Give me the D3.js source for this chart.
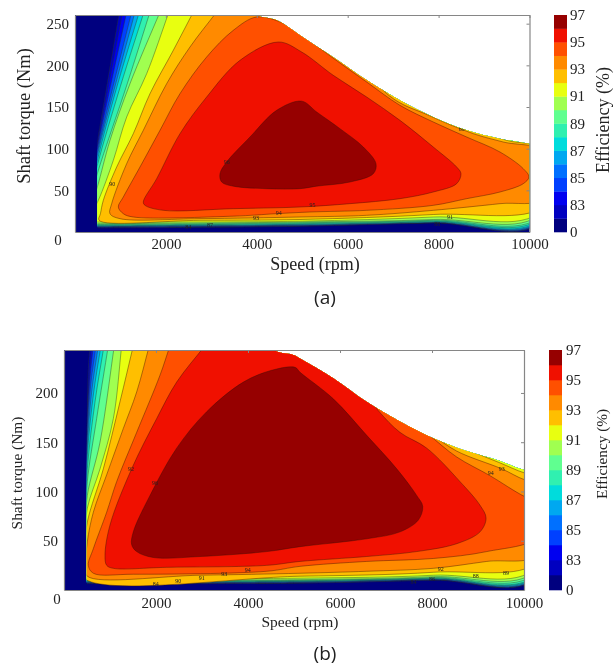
<!DOCTYPE html>
<html><head><meta charset="utf-8">
<script src="https://cdn.jsdelivr.net/npm/d3@7/dist/d3.min.js"></script>
<style>html,body{margin:0;background:#fff}svg{display:block;filter:blur(0.35px)}</style></head>
<body><svg id="c" width="616" height="670"></svg>
<script>
const levels=[0,82,83,84,85,86,87,88,89,90,91,92,93,94,95,96,97];
const bandColors=["#00007f","#0000c0","#0000f0","#0040ff","#0070ff","#00a8f0","#00dcdc","#30f0b0","#60ff90","#a0ff50","#e8ff10","#ffbf00","#ff8a00","#ff5000","#f01000","#960000"];
const barLabels=[0,83,85,87,89,91,93,95,97];
const xTicks=[2000,4000,6000,8000,10000];
const yTicksA=[50,100,150,200,250];
const yTicksB=[50,100,150,200];
const minSpeedA=491, minSpeedB=493;

// Operating limit: [rpm, torque]
const limitA=[[0,275],[3800,275],[4004,260],[4444,254],[4796,242],[4950,236],[5676,210],[6424,182],[7150,158],[7876,138],[8624,122],[9350,112],[10000,106],[10100,105]];
const limitB=[[0,260],[4300,260],[4624,242],[5022,238],[5131,235],[5855,215],[6580,191],[7304,171],[8029,154],[8754,141],[9479,131],[10000,122],[10100,121]];

// Contours of panel (a), one per lower level: [rpm, torque]
const a82=[[975,264],[491,108],[250,30],[250,5],[491,5],[2500,5.5],[5000,7],[7883,11],[10300,13]];
const a83=[[1049,264],[491,104],[250,30],[250,5.5],[491,5.5],[2500,6],[5000,7.4],[7883,11.2],[10300,13.5]];
const a84=[[1137,264],[491,100],[250,28],[250,6],[491,6],[2500,6.5],[5000,7.8],[7883,11.4],[10300,14]];
const a85=[[1247,264],[491,96],[250,28],[250,6.5],[491,6.5],[2500,7],[5000,8.2],[7883,11.6],[10300,14.5]];
const a86=[[1320,264],[491,92],[250,26],[250,7],[491,7],[2500,7.5],[5000,8.6],[7883,12],[10300,15.5]];
const a87=[[1415,264],[900,170],[491,86],[250,26],[250,7.5],[491,7.5],[2500,8],[5000,9.2],[7883,12.4],[10300,17]];
const a88=[[1518,264],[1000,175],[491,80],[250,24],[250,8],[491,8],[2500,8.7],[5000,10],[7883,13],[10300,19]];
const a89=[[1650,264],[1150,178],[491,70],[250,22],[250,9],[491,9],[2500,9.5],[5000,11],[7883,14],[10300,21]];
const a90=[[1870,264],[1210,178],[770,110],[491,54],[300,22],[300,10],[491,10],[2500,10.5],[5000,12],[7883,15],[10300,24]];
const a91=[[2067,264],[1577,190],[1137,138],[843,86],[513,38],[300,16],[300,12],[500,12],[2500,12],[5000,13],[7883,18],[10300,27]];
const a92=[[2603,264],[2163,218],[1650,166],[1283,118],[917,78],[623,38],[560,22],[530,14],[2750,14],[4950,15],[7883,21],[10300,31],[10400,98],[9500,110],[8500,130],[7000,178],[5000,285]];
const a93=[[3117,264],[2530,222],[2017,178],[1503,122],[1137,82],[807,34],[770,22],[990,16],[2750,16],[4950,18],[6417,20],[7883,26],[9350,34],[10300,40],[10400,95],[9423,108],[8763,118],[7783,140],[6903,164],[5000,290]];
const a94=[[3997,258],[3483,242],[2897,210],[2310,166],[1870,122],[1430,78],[1063,42],[953,30],[1063,22],[1283,18],[3483,19],[4437,22],[5170,24],[6417,26],[7883,32],[8617,40],[9350,48],[9863,58],[9987,66],[9863,76],[9350,96],[8617,114],[7883,132],[7150,152],[6417,180],[5647,210],[5100,232],[4600,250]];
const a95=[[1503,36],[1797,64],[2310,118],[2897,162],[3630,206],[4473,228],[4987,216],[5683,188],[6417,162],[7150,134],[7883,102],[8397,78],[8492,70],[8397,58],[7883,48],[7150,40],[6050,34],[4950,30],[3483,28],[1943,26],[1540,32]];
const a96=[[3190,70],[3337,84],[3850,114],[4437,146],[4987,157],[5317,144],[5830,124],[6343,102],[6622,82],[6563,70],[6050,60],[5317,55],[4950,52],[4217,52],[3483,55],[3227,60]];

// Contours of panel (b)
const b82=[[565,248],[529,225],[507,184],[470,110],[430,30],[430,6.5],[493,6.5],[5131,7],[8029,10],[10300,13]];
const b83=[[601,248],[551,218],[507,177],[470,105],[430,30],[430,6.8],[493,6.8],[5131,7.3],[8029,10.3],[10300,13.3]];
const b84=[[638,248],[565,215],[507,167],[470,100],[430,30],[430,7.1],[493,7.1],[5131,7.6],[8029,10.6],[10300,13.6]];
const b85=[[696,248],[580,208],[507,157],[470,95],[430,30],[430,7.5],[493,7.5],[5131,8],[8029,10.9],[10300,14]];
const b86=[[746,248],[601,201],[507,147],[470,90],[430,30],[430,8],[493,8],[5131,8.4],[8029,11.2],[10300,14.5]];
const b87=[[804,248],[638,198],[507,137],[470,85],[430,30],[430,8.4],[493,8.4],[5131,8.8],[8029,11.6],[10300,15.5]];
const b88=[[870,248],[674,191],[507,123],[470,75],[430,30],[430,8.8],[493,8.8],[5131,9.3],[8029,12],[10300,16.5]];
const b89=[[964,248],[710,174],[507,110],[470,70],[430,30],[430,9.3],[493,9.3],[5131,9.8],[8029,12.6],[10300,18.6]];
const b90=[[1094,248],[783,150],[507,96],[460,60],[430,30],[430,10],[493,10],[5131,10.5],[8029,13.5],[10300,21]];
const b91=[[1254,248],[1073,174],[783,123],[507,83],[450,50],[430,25],[430,11],[493,11],[5131,12],[8029,15],[10300,24]];
const b92=[[1507,248],[1217,191],[855,123],[507,69],[440,40],[420,12.5],[5131,14],[8029,18],[10300,29],[10400,115],[10000,119],[9479,129],[8754,143],[8000,160],[7000,190],[5000,270]];
const b93=[[1855,248],[1580,201],[1290,164],[928,117],[638,79],[507,49],[470,25],[507,14],[2957,15],[5131,17],[6580,19],[8029,22],[9189,29],[10300,36],[10400,108],[10008,112],[9515,123],[8537,141],[8000,158],[7300,185],[5000,270]];
const b94=[[2304,248],[2087,218],[1580,160],[1145,110],[928,79],[638,42],[529,25],[638,17],[1507,16],[4406,19],[5131,24],[6580,29],[8029,32],[9189,39],[10300,54],[10400,88],[10008,95],[9262,116],[8537,135],[7885,159],[6800,195],[5000,270]];
const b95=[[3065,248],[2449,211],[2015,174],[1471,123],[1000,66],[891,35],[928,25],[1073,22],[2232,23],[4406,25],[5131,29],[6580,34],[7666,39],[8537,47],[9044,59],[9175,73],[9044,86],[8609,110],[7885,144],[7304,160],[6834,182],[6300,215],[5500,255]];
const b96=[[1471,46],[1507,59],[1870,96],[2449,144],[3102,181],[3899,211],[4515,223],[5022,226],[5131,221],[5855,194],[6580,157],[7233,123],[7666,96],[7797,85],[7703,71],[7304,59],[6580,52],[5131,44],[4406,39],[2957,34],[1942,33],[1580,39]];

const contoursA=[a82,a83,a84,a85,a86,a87,a88,a89,a90,a91,a92,a93,a94,a95,a96];
const contoursB=[b82,b83,b84,b85,b86,b87,b88,b89,b90,b91,b92,b93,b94,b95,b96];

// Inline contour labels: [text, rpm, torque]
const inlineA=[["96",3337,84],["90",821,58],["94",4481,23],["93",3982,17],["95",5228,32],["91",8250,18],["88",7971,10],["87",2970,8],["84",2493,6],["89",8507,124],["89",9497,113]];
const inlineB=[["96",1978,109],["92",1457,123],["94",3993,20],["93",3486,16],["91",2993,12],["90",2486,9],["84",1993,6],["92",8189,21],["88",8950,14.5],["89",9610,17.6],["86",8000,11],["84",7596,8],["94",9276,119],["93",9515,123]];

const panels=[
 {id:"a",L:75,R:529.5,T:15,B:232,yMax:260.4,minSpeed:minSpeedA,yTicks:yTicksA,limit:limitA,contours:contoursA,inline:inlineA,
  barX:554,barW:13,barLabelX:570,xPad:6,zero:[58,244.5],tickFs:15,
  xTitle:[315,270,18],yTitle:[30,116,18.5],effT:[609,120,18],tag:[325,304]},
 {id:"b",L:64,R:524,T:350,B:590,yMax:243.6,minSpeed:minSpeedB,yTicks:yTicksB,limit:limitB,contours:contoursB,inline:inlineB,
  barX:549,barW:13,barLabelX:566,xPad:7,zero:[57,604],tickFs:15,
  xTitle:[300,627,15.5],yTitle:[22,473,15.4],effT:[607,454,15.3],tag:[325,660]}
];
const serif='"Liberation Serif","Times New Roman",serif';
const svg=d3.select("#c");
const frame="#868686";

panels.forEach(p=>{
  const x=d3.scaleLinear().domain([0,10000]).range([p.L,p.R]);
  const y=d3.scaleLinear().domain([0,p.yMax]).range([p.B,p.T]);
  const g=svg.append("g");
  const defs=svg.append("defs");
  const area=d3.area().x(d=>x(d[0])).y0(y(0)).y1(d=>y(d[1])).curve(d3.curveMonotoneX);
  defs.append("clipPath").attr("id","box"+p.id).append("rect")
    .attr("x",p.L).attr("y",p.T).attr("width",p.R-p.L).attr("height",p.B-p.T);
  defs.append("clipPath").attr("id","lim"+p.id).append("path").attr("d",area(p.limit));
  defs.append("clipPath").attr("id","run"+p.id).append("rect")
    .attr("x",x(p.minSpeed)).attr("y",p.T).attr("width",p.R-x(p.minSpeed)).attr("height",p.B-p.T);
  const outer=g.append("g").attr("clip-path",`url(#box${p.id})`);
  const field=outer.append("g").attr("clip-path",`url(#lim${p.id})`);
  field.append("path").attr("d",area(p.limit)).attr("fill",bandColors[0]);
  const bands=field.append("g").attr("clip-path",`url(#run${p.id})`);
  const line=d3.line().x(d=>x(d[0])).y(d=>y(d[1])).curve(d3.curveCatmullRomClosed.alpha(0.5));
  const corner=[10700,p.yMax*1.3];
  p.contours.forEach((c,i)=>{
    let pts=c;
    if(c[0][1]>p.yMax && c[1][1]<c[0][1]){
      // carry the contour straight on beyond the top of the plot before it closes
      const k=40/(c[0][1]-c[1][1]);
      pts=[[c[0][0]+(c[0][0]-c[1][0])*k,c[0][1]+40],...pts];
    }
    if(c[c.length-1][0]>10000) pts=[...pts,corner];
    bands.append("path").attr("d",line(pts)).attr("fill",bandColors[i+1])
      .attr("stroke",i<10?"#2a3a20":"#3a1005").attr("stroke-width",0.6).attr("stroke-opacity",0.7);
  });
  bands.selectAll("text.il").data(p.inline).join("text").attr("class","il")
    .attr("x",d=>x(d[1])).attr("y",d=>y(d[2])+2).attr("text-anchor","middle")
    .attr("font-size",6).attr("font-family",serif).attr("fill","#222").text(d=>d[0]);

  // frame and axes
  const style=s=>{s.selectAll(".domain").attr("stroke",frame).attr("stroke-width",1.2);
    s.selectAll(".tick line").attr("stroke",frame);
    s.selectAll("text").attr("font-family",serif).attr("font-size",p.tickFs).attr("fill","#222");};
  g.append("g").attr("transform",`translate(0,${p.B})`)
    .call(d3.axisBottom(x).tickValues(xTicks).tickSize(0).tickPadding(p.xPad).tickFormat(d3.format("d"))).call(style);
  g.append("g").attr("transform",`translate(${p.L},0)`)
    .call(d3.axisLeft(y).tickValues(p.yTicks).tickSize(0).tickPadding(6)).call(style);
  g.append("g").attr("transform",`translate(0,${p.T})`)
    .call(d3.axisTop(x).tickValues(xTicks).tickSizeInner(-3).tickSizeOuter(0).tickFormat("")).call(style);
  g.append("g").attr("transform",`translate(${p.R},0)`)
    .call(d3.axisRight(y).tickValues(p.yTicks).tickSizeInner(-3).tickSizeOuter(0).tickFormat("")).call(style);
  g.append("text").attr("x",p.zero[0]).attr("y",p.zero[1]).attr("text-anchor","middle")
    .attr("font-family",serif).attr("font-size",p.tickFs).attr("fill","#222").text("0");
  g.append("text").attr("x",p.xTitle[0]).attr("y",p.xTitle[1]).attr("text-anchor","middle")
    .attr("font-family",serif).attr("font-size",p.xTitle[2]).attr("fill","#222").text("Speed (rpm)");
  g.append("text").attr("transform",`translate(${p.yTitle[0]},${p.yTitle[1]}) rotate(-90)`).attr("text-anchor","middle")
    .attr("font-family",serif).attr("font-size",p.yTitle[2]).attr("fill","#222").text("Shaft torque (Nm)");

  // colour bar
  const bar=d3.scaleLinear().domain([0,bandColors.length]).range([p.B,p.T]);
  g.selectAll("rect.band").data(bandColors).join("rect").attr("class","band")
    .attr("x",p.barX).attr("width",p.barW)
    .attr("y",(d,i)=>bar(i+1)).attr("height",(d,i)=>bar(i)-bar(i+1)+0.3).attr("fill",d=>d);
  g.selectAll("text.bl").data(barLabels).join("text").attr("class","bl")
    .attr("x",p.barLabelX).attr("y",d=>bar(levels.indexOf(d))+5)
    .attr("font-family",serif).attr("font-size",15).attr("fill","#222").text(d=>d);
  g.append("text").attr("transform",`translate(${p.effT[0]},${p.effT[1]}) rotate(-90)`).attr("text-anchor","middle")
    .attr("font-family",serif).attr("font-size",p.effT[2]).attr("fill","#222").text("Efficiency (%)");
  g.append("text").attr("x",p.tag[0]).attr("y",p.tag[1]).attr("text-anchor","middle")
    .attr("font-family",'"Open Sans","Noto Sans",sans-serif').attr("font-size",19).attr("fill","#222").text(`(${p.id})`);
});
</script></body></html>
